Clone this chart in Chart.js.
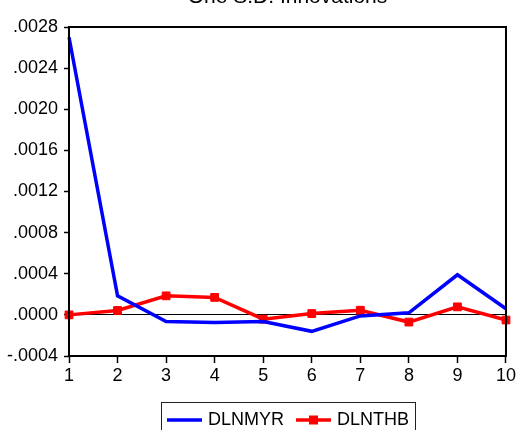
<!DOCTYPE html>
<html>
<head>
<meta charset="utf-8">
<script src="https://cdn.jsdelivr.net/npm/chart.js@4/dist/chart.umd.min.js"></script>
<style>
  html, body { margin: 0; padding: 0; background: #fff; }
  #wrap { width: 518px; height: 430px; position: relative; }
</style>
</head>
<body>
<div id="wrap"><canvas id="c" width="518" height="430"></canvas></div>
<script>
// Response horizons (periods)
const periods = ['1', '2', '3', '4', '5', '6', '7', '8', '9', '10'];

// Responses to one S.D. innovations
const dlnmyr = [0.00270, 0.000185, -0.000065, -0.000075, -0.000065, -0.000160, -0.000010, 0.000020, 0.000390, 0.000060];
const dlnthb = [0.00000, 0.000043, 0.000185, 0.000170, -0.000042, 0.000013, 0.000045, -0.000070, 0.000078, -0.000050];

// Y axis range and step
const yTicks = { min: -0.0004, max: 0.0028, step: 0.0004 };

const chartTitle = 'One S.D. Innovations';
const FONT = 'Liberation Sans, Arial, Helvetica, sans-serif';

function fmtTick(v) {
  if (Math.abs(v) < 1e-10) return '.0000';
  return v.toFixed(4).replace('0.', '.');
}

// Frame around the plot, the cropped title and the boxed legend
const decorations = {
  id: 'decorations',
  afterDraw(chart) {
    const { ctx, chartArea: a } = chart;
    ctx.save();
    ctx.strokeStyle = '#000';
    ctx.lineWidth = 2;
    ctx.strokeRect(a.left, a.top, a.right - a.left, a.bottom - a.top);

    ctx.fillStyle = '#000';
    ctx.font = '21px ' + FONT;
    ctx.textAlign = 'center';
    ctx.textBaseline = 'alphabetic';
    ctx.fillText(chartTitle, (a.left + a.right) / 2, 3);

    // legend
    ctx.lineWidth = 1;
    ctx.strokeStyle = '#222';
    ctx.strokeRect(161.5, 402.5, 254, 40);
    ctx.font = '18px ' + FONT;
    ctx.textAlign = 'left';
    let x = 167;
    chart.data.datasets.forEach(ds => {
      ctx.strokeStyle = ds.borderColor;
      ctx.lineWidth = 3.5;
      ctx.beginPath();
      ctx.moveTo(x, 420);
      ctx.lineTo(x + 35, 420);
      ctx.stroke();
      if (ds.pointRadius > 0) {
        ctx.fillStyle = ds.borderColor;
        ctx.fillRect(x + 17.5 - 4.5, 420 - 4.5, 9, 9);
      }
      ctx.fillStyle = '#000';
      ctx.fillText(ds.label, x + 41, 424.5);
      x += 41 + ctx.measureText(ds.label).width + 12;
    });
    ctx.restore();
  }
};

new Chart(document.getElementById('c'), {
  type: 'line',
  data: {
    labels: periods,
    datasets: [
      {
        label: 'DLNMYR',
        data: dlnmyr,
        borderColor: '#0000ff',
        backgroundColor: '#0000ff',
        borderWidth: 3.5,
        pointRadius: 0,
        tension: 0
      },
      {
        label: 'DLNTHB',
        data: dlnthb,
        borderColor: '#ff0000',
        backgroundColor: '#ff0000',
        borderWidth: 3.5,
        pointStyle: 'rect',
        pointRadius: 5.5,
        pointBorderWidth: 1,
        tension: 0
      }
    ]
  },
  options: {
    responsive: false,
    animation: false,
    layout: { padding: { top: 27, right: 10, left: 0, bottom: 0 } },
    plugins: {
      legend: { display: false },
      title: { display: false },
      tooltip: { enabled: false }
    },
    scales: {
      x: {
        type: 'category',
        offset: false,
        border: { display: false },
        grid: {
          drawOnChartArea: false,
          drawTicks: true,
          tickLength: 7,
          tickColor: '#000',
          tickWidth: 1.5
        },
        ticks: {
          color: '#000',
          font: { family: FONT, size: 18 },
          padding: 2,
          maxRotation: 0,
          autoSkip: false
        },
        afterFit(s) { s.height = 74; }
      },
      y: {
        min: yTicks.min,
        max: yTicks.max,
        border: { display: false },
        grid: {
          drawOnChartArea: true,
          color: c => (c.tick && Math.abs(c.tick.value) < 1e-10) ? '#000' : 'rgba(0,0,0,0)',
          lineWidth: 1,
          tickLength: 5,
          tickColor: '#000',
          tickWidth: 1.5
        },
        ticks: {
          stepSize: yTicks.step,
          color: '#000',
          font: { family: FONT, size: 18 },
          padding: 6,
          callback: v => fmtTick(v)
        },
        afterFit(s) { s.width = 69; }
      }
    }
  },
  plugins: [decorations]
});
</script>
</body>
</html>
